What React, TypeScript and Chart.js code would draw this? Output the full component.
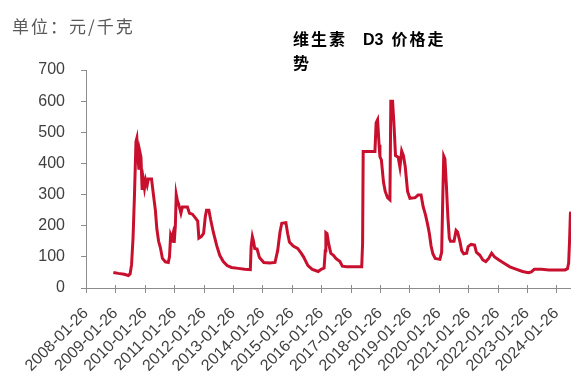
import React, { useEffect, useRef } from "react";
import { Chart, registerables } from "chart.js";

Chart.register(...registerables);

// x positions are years elapsed since 2008-01-26
const FIRST_YEAR = 2008;
const LAST_YEAR = 2024;
const tickYears = Array.from({ length: LAST_YEAR - FIRST_YEAR + 1 }, (_, i) => FIRST_YEAR + i);
const tickLabels = tickYears.map((y) => `${y}-01-26`);
const yTickValues = [0, 100, 200, 300, 400, 500, 600, 700];

const timeOffsets = [
  0.93, 1.1, 1.3, 1.44, 1.5, 1.55, 1.6, 1.65, 1.7, 1.73, 1.77, 1.8, 1.83, 1.87, 1.91, 1.95, 1.99, 2.03, 2.08, 2.12,
  2.23, 2.3, 2.36, 2.41, 2.47, 2.53, 2.6, 2.7, 2.8, 2.84, 2.88, 2.92, 2.96, 3.0, 3.04, 3.07, 3.11, 3.15, 3.23, 3.28,
  3.45, 3.52, 3.62, 3.72, 3.8, 3.84, 3.92, 4.0, 4.06, 4.1, 4.18, 4.24, 4.33, 4.45, 4.55, 4.67, 4.8, 4.95, 5.18, 5.4,
  5.59, 5.62, 5.66, 5.7, 5.74, 5.82, 5.9, 6.05, 6.25, 6.43, 6.52, 6.6, 6.66, 6.8, 6.86, 6.92, 7.05, 7.2, 7.32, 7.4,
  7.55, 7.7, 7.9, 8.0, 8.1, 8.14, 8.16, 8.2, 8.26, 8.33, 8.42, 8.5, 8.64, 8.72, 8.87, 9.38, 9.41, 9.43, 9.83, 9.87,
  9.92, 9.97, 10.0, 10.05, 10.12, 10.18, 10.26, 10.34, 10.37, 10.43, 10.48, 10.53, 10.62, 10.68, 10.74, 10.8, 10.86,
  10.94, 11.02, 11.2, 11.3, 11.4, 11.47, 11.55, 11.62, 11.68, 11.74, 11.8, 11.88, 12.04, 12.1, 12.14, 12.17, 12.21,
  12.26, 12.31, 12.36, 12.4, 12.52, 12.59, 12.64, 12.72, 12.78, 12.85, 12.95, 13.0, 13.1, 13.22, 13.28, 13.4, 13.5,
  13.6, 13.7, 13.8, 13.9, 14.05, 14.25, 14.42, 14.65, 14.85, 15.05, 15.15, 15.25, 15.5, 15.75, 16.3, 16.38, 16.42,
  16.45, 16.48, 16.5,
];

const prices = [
  50, 47, 44, 40, 45, 75, 160, 300, 470, 481, 420, 380, 438, 420, 315, 347, 321, 347, 330, 350,
  350, 295, 250, 190, 150, 130, 95, 84, 82, 100, 170, 160, 175, 145, 200, 300, 280, 270, 240, 260,
  260, 240, 237, 225, 215, 160, 165, 175, 230, 250, 250, 220, 180, 135, 105, 85, 72, 66, 63, 60,
  59, 135, 165, 150, 127, 125, 98, 82, 80, 82, 120, 180, 208, 210, 175, 148, 135, 127, 112, 100,
  72, 60, 53, 60, 64, 120, 178, 175, 140, 111, 105, 95, 85, 70, 68, 68, 143, 438, 438, 530,
  540, 460, 422, 411, 340, 310, 290, 283, 600, 600, 520, 425, 420, 388, 440, 425, 390,
  310, 288, 290, 299, 299, 261, 235, 205, 176, 135, 110, 95, 92, 115, 300, 424, 415,
  330, 230, 160, 150, 150, 185, 180, 150, 120, 110, 112, 133, 140, 138, 115, 105, 90,
  85, 95, 112, 100, 90, 78, 68, 60, 53, 49, 52, 60, 60, 58, 58, 62, 80,
  150, 240, 245,
];

const AXIS_COLOR = "#8c8c8c";
const TEXT_COLOR = "#404040";
const LINE_COLOR = "#C8102E";

const crossTicks = {
  id: "crossTicks",
  afterDraw(chart: any) {
    const xs = chart.scales.x;
    const ctx = chart.ctx;
    const yb = chart.chartArea.bottom;
    ctx.save();
    ctx.strokeStyle = AXIS_COLOR;
    ctx.lineWidth = 1;
    xs.ticks.forEach((t: any) => {
      const px = Math.round(xs.getPixelForValue(t.value)) + 0.5;
      ctx.beginPath();
      ctx.moveTo(px, yb - 3);
      ctx.lineTo(px, yb + 5);
      ctx.stroke();
    });
    ctx.restore();
  },
};

export default function App() {
  const ref = useRef<HTMLCanvasElement | null>(null);

  useEffect(() => {
    if (!ref.current) return;
    const data = timeOffsets.map((x, i) => ({ x, y: prices[i] }));
    const chart = new Chart(ref.current, {
      type: "line",
      data: {
        datasets: [
          {
            data,
            borderColor: LINE_COLOR,
            borderWidth: 3,
            pointRadius: 0,
            tension: 0,
            fill: false,
          },
        ],
      },
      options: {
        animation: false,
        responsive: false,
        devicePixelRatio: 1,
        layout: { padding: { top: 70, right: 0, left: 0, bottom: 0 } },
        plugins: { legend: { display: false }, tooltip: { enabled: false }, title: { display: false } },
        scales: {
          x: {
            type: "linear",
            min: 0,
            max: 16.5,
            afterFit: (s: any) => {
              s.height = 90;
              s.paddingRight = 0;
              s.paddingLeft = 0;
            },
            grid: { display: true, drawOnChartArea: false, drawTicks: false },
            border: { display: true, color: AXIS_COLOR, width: 1 },
            ticks: {
              stepSize: 1,
              includeBounds: false,
              autoSkip: false,
              minRotation: 45,
              maxRotation: 45,
              padding: 16,
              color: TEXT_COLOR,
              font: { size: 16, family: "'Liberation Sans', Arial, sans-serif" },
              callback: (v: any) => tickLabels[Math.round(Number(v))] ?? "",
            },
          },
          y: {
            min: 0,
            max: 700,
            afterFit: (s: any) => {
              s.width = 86;
            },
            afterBuildTicks: (s: any) => {
              s.ticks = yTickValues.map((value) => ({ value }));
            },
            grid: { display: true, drawOnChartArea: false, drawTicks: true, tickLength: 5, color: AXIS_COLOR },
            border: { display: true, color: AXIS_COLOR, width: 1 },
            ticks: {
              padding: 16,
              color: TEXT_COLOR,
              font: { size: 16, family: "'Liberation Sans', Arial, sans-serif" },
            },
          },
        },
      },
      plugins: [crossTicks],
    });
    return () => chart.destroy();
  }, []);

  return (
    <div
      style={{
        position: "fixed",
        left: 0,
        top: 0,
        width: 571,
        height: 378,
        overflow: "hidden",
        background: "#ffffff",
      }}
    >
      <canvas ref={ref} width={571} height={378} style={{ display: "block", width: 571, height: 378 }} />
      <div
        style={{
          position: "absolute",
          left: 12,
          top: 15,
          fontFamily: "'Noto Sans CJK SC', sans-serif",
          fontSize: 17,
          lineHeight: "22px",
          letterSpacing: 2,
          color: "#595959",
          whiteSpace: "pre",
        }}
      >
        单位：元/千克
      </div>
      <div
        style={{
          position: "absolute",
          left: 293,
          top: 27,
          fontFamily: "'Noto Sans CJK SC', sans-serif",
          fontSize: 16,
          fontWeight: "bold",
          lineHeight: "23px",
          letterSpacing: 2,
          color: "#000000",
          whiteSpace: "pre",
        }}
      >
        {"维生素"}
        <span style={{ fontFamily: "'Liberation Sans', Arial, sans-serif", letterSpacing: 0, margin: "0 8px 0 16px" }}>
          D3
        </span>
        {"价格走"}
        <br />
        {"势"}
      </div>
    </div>
  );
}
